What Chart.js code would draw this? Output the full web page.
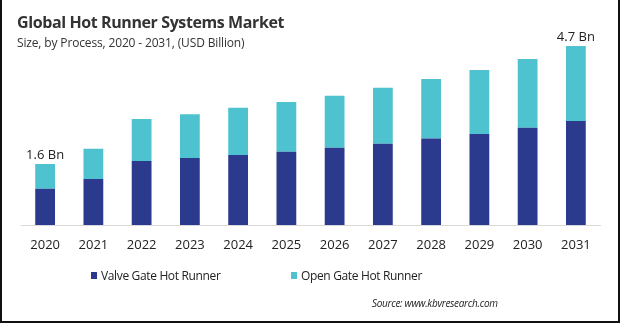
<!DOCTYPE html>
<html>
<head>
<meta charset="utf-8">
<script src="https://cdn.jsdelivr.net/npm/chart.js@4.4.1/dist/chart.umd.min.js"></script>
<style>
  html, body { margin: 0; padding: 0; background: #ffffff; }
  #frame {
    position: relative; width: 616px; height: 321px;
    border-left: 2px solid #111; border-right: 2px solid #111; border-bottom: 2px solid #111;
    background: #ffffff; overflow: hidden;
  }
  #chart { position: absolute; left: -2px; top: 0; }
  .title { position: absolute; left: 15px; top: 11px; font: bold 16px "Open Sans", sans-serif; letter-spacing: -0.4px; color: #333; white-space: nowrap; }
  .subtitle { position: absolute; left: 15px; top: 34px; font: 12px "Open Sans", sans-serif; letter-spacing: -0.15px; color: #333; white-space: nowrap; }
  .legend { position: absolute; top: 267px; font: 12px "Open Sans", sans-serif; letter-spacing: -0.35px; color: #222; white-space: nowrap; display: flex; align-items: center; }
  .legend i { display: inline-block; width: 6px; height: 7px; margin-right: 4px; }
  .source { position: absolute; left: 370px; top: 296px; font: italic 10px "Open Sans", sans-serif; letter-spacing: -0.3px; color: #222; white-space: nowrap; }
</style>
</head>
<body>
<div id="frame">
  <canvas id="chart" width="620" height="323"></canvas>
  <div class="title">Global Hot Runner Systems Market</div>
  <div class="subtitle">Size, by Process, 2020 - 2031, (USD Billion)</div>
  <div id="legend"></div>
  <div class="source">Source: www.kbvresearch.com</div>
</div>
<script>
// Years on the x axis
const years = ['2020', '2021', '2022', '2023', '2024', '2025', '2026', '2027', '2028', '2029', '2030', '2031'];
// Market size by process, USD billion
const valveGate = [0.95, 1.21, 1.68, 1.76, 1.84, 1.92, 2.03, 2.13, 2.27, 2.39, 2.55, 2.73];
const openGate  = [0.65, 0.79, 1.10, 1.15, 1.24, 1.31, 1.36, 1.47, 1.56, 1.68, 1.81, 1.97];
// Bars whose stacked total is printed above them
const labelledYears = ['2020', '2031'];

const seriesNames = ['Valve Gate Hot Runner', 'Open Gate Hot Runner'];
const seriesColors = ['#2c3a8e', '#4ec3cf'];

// Writes the stack total above selected bars
const totalLabels = {
  id: 'totalLabels',
  afterDatasetsDraw(chart) {
    const { ctx } = chart;
    const top = chart.getDatasetMeta(1);
    ctx.save();
    ctx.font = '13px "Open Sans", sans-serif';
    ctx.fillStyle = '#222';
    ctx.textAlign = 'center';
    ctx.textBaseline = 'bottom';
    years.forEach((y, i) => {
      if (!labelledYears.includes(y)) return;
      const total = valveGate[i] + openGate[i];
      const bar = top.data[i];
      ctx.fillText(total.toFixed(1) + ' Bn', bar.x, bar.y - 2);
    });
    ctx.restore();
  }
};

const chart = new Chart(document.getElementById('chart'), {
  type: 'bar',
  data: {
    labels: years,
    datasets: [
      { label: seriesNames[0], data: valveGate, backgroundColor: seriesColors[0] },
      { label: seriesNames[1], data: openGate, backgroundColor: seriesColors[1] }
    ]
  },
  options: {
    responsive: false,
    animation: false,
    events: [],
    layout: { padding: { left: 21, right: 20, top: 34.5, bottom: 68 } },
    datasets: { bar: { categoryPercentage: 1, barPercentage: 0.41 } },
    plugins: { legend: { display: false }, tooltip: { enabled: false } },
    scales: {
      x: {
        stacked: true,
        grid: { display: false, drawTicks: false },
        border: { display: true, color: '#d9d9d9', width: 1 },
        ticks: { font: { family: '"Open Sans", sans-serif', size: 13 }, color: '#222', padding: 12, maxRotation: 0 },
        afterFit(scale) { scale.height = 30; }
      },
      y: {
        stacked: true, display: false, min: 0, max: 5
      }
    }
  },
  plugins: [totalLabels]
});

// Legend built from the chart's datasets
const legend = document.getElementById('legend');
const legendX = [89, 289];
chart.data.datasets.forEach((ds, i) => {
  const item = document.createElement('div');
  item.className = 'legend';
  item.style.left = legendX[i] + 'px';
  const sw = document.createElement('i');
  sw.style.background = ds.backgroundColor;
  item.appendChild(sw);
  item.appendChild(document.createTextNode(ds.label));
  legend.appendChild(item);
});
</script>
</body>
</html>
